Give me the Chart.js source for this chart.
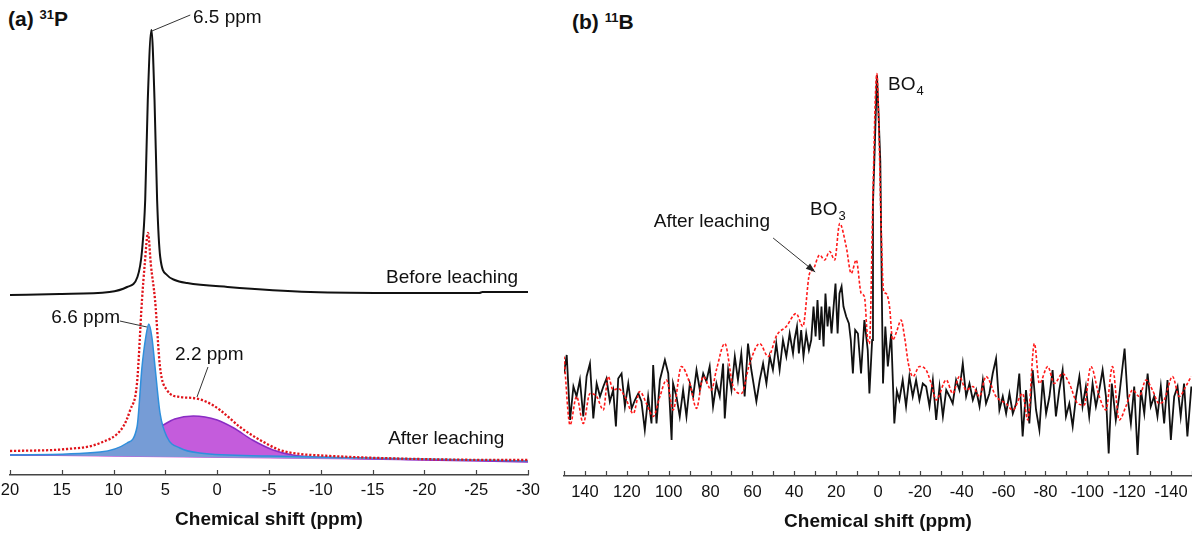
<!DOCTYPE html>
<html>
<head>
<meta charset="utf-8">
<script src="https://cdn.jsdelivr.net/npm/chart.js@4.4.1/dist/chart.umd.min.js"></script>
<style>
  html, body { margin: 0; padding: 0; background: #fff; overflow: hidden; }
  body { width: 1192px; height: 534px; position: relative; font-family: "Liberation Sans", Arial, sans-serif; }
  canvas { position: absolute; top: 0; }
  #pChart { left: 0; }
  #bChart { left: 550px; }
  .panel { position: absolute; font-weight: bold; font-size: 21px; color: #111; line-height: 1; white-space: nowrap; }
  .panel sup { font-size: 13px; vertical-align: 0; position: relative; top: -7px; }
</style>
</head>
<body>
<div class="panel" style="left:8px; top:8px">(a) <sup>31</sup>P</div>
<div class="panel" style="left:572px; top:11px">(b) <sup>11</sup>B</div>
<canvas id="pChart" width="550" height="534"></canvas>
<canvas id="bChart" width="642" height="534"></canvas>
<script>
// ---- (a) 31P : chemical shift (ppm) / intensity (a.u.) ----
const pTicks = [20, 15, 10, 5, 0, -5, -10, -15, -20, -25, -30];

const pBeforeShift = [20, 15.2, 10.4, 8.7, 7.7, 7.25, 6.95, 6.7, 6.35, 6.05, 5.8, 5.5, 4.85, 4.1, 2.9, -1, -9, -18, -25.3, -25.6, -30];
const pBeforeInt   = [36, 36.2, 36.6, 37.6, 39.6, 45, 55, 75, 89, 75, 55, 43.6, 40, 39, 38.4, 37.6, 36.6, 36.4, 36.4, 36.6, 36.6];

const pAfterShift = [20, 14.5, 11.3, 9.1, 8.4, 7.74, 7.26, 7.0, 6.68, 6.4, 6.0, 5.52, 4.85, 3.6, 2.33, 1.0, -0.27, -2.2, -4.13, -6.06, -8, -9.25, -15.7, -28.6, -30];
const pAfterInt   = [4.8, 5.2, 6.4, 9.6, 13, 18.4, 35, 42, 48.4, 42, 35, 21.6, 17, 15.6, 15.4, 14.6, 13, 9.6, 7, 5, 4.2, 4, 3.4, 3, 3];

// fitted component at 6.6 ppm
const pSiteAShift = [20, 11.3, 8.7, 7.74, 7.26, 6.9, 6.6, 6.3, 6.0, 5.52, 4.85, 3.6, 1.7, -5, -15, -30];
const pSiteAInt   = [4, 4.6, 6.4, 9.6, 21.6, 27.5, 30.2, 27.5, 21.6, 12.4, 7.6, 5.4, 4.4, 3.8, 3.4, 2.8];

// fitted component at 2.2 ppm
const pSiteBShift = [20, 11.3, 9.7, 8.7, 7.0, 5.2, 4.1, 2.3, 0, -1.6, -3.4, -5.4, -7.3, -12, -20, -30];
const pSiteBInt   = [4, 4.2, 5.2, 6, 7.8, 10, 11.2, 11.8, 11, 9.4, 7, 5, 4, 3.4, 3, 2.6];

const pBaseShift = [20, -30];
const pBaseInt   = [4, 2.8];

// ---- (b) 11B ----
const bTicks = [150, 140, 130, 120, 110, 100, 90, 80, 70, 60, 50, 40, 30, 20, 10, 0,
  -10, -20, -30, -40, -50, -60, -70, -80, -90, -100, -110, -120, -130, -140, -150];

const bBeforeShift = [150, 148.7, 147.1, 145.5, 144.0, 142.4, 140.8, 139.2, 137.6, 136.0, 134.4, 132.8, 131.2, 129.7, 128.1, 126.5,
  125.2, 124.1, 122.5, 120.9, 119.3, 117.7, 116.1, 114.5, 113.0, 111.4, 109.8, 108.2, 107.4, 105.8, 104.2, 101.8, 100.2,
  98.6, 97.9, 96.3, 94.7, 93.1, 91.5, 89.9, 88.3, 86.7, 85.1, 83.5, 82.0, 80.4, 78.8, 77.2, 75.6, 74.0, 73.2, 71.6, 70.0,
  68.4, 66.9, 65.3, 63.7, 62.1, 60.5, 58.1, 56.5, 54.9, 53.3, 51.7, 50.2, 48.6, 47.0, 45.4, 43.8, 42.2, 40.6, 39.9, 38.7,
  37.8, 36.7, 35.6, 34.3, 33.0, 31.9, 30.8, 29.8, 28.9, 27.9, 27.0, 26.0, 25.1, 24.1, 23.2, 22.2, 21.2, 20.3, 19.3, 18.4,
  17.4, 16.5, 15.2, 13.9, 13.0, 12.0, 10.9, 9.6, 8.1, 6.5, 4.9, 4.1, 2.8, 2.4, 1.6, 0.5, -0.3, -1.1, -2.0, -2.4, -3.5,
  -4.7, -6.3, -7.8, -9.0, -10.2, -11.8, -13.4, -15.0, -16.6, -18.2, -19.8, -21.4, -23.0, -24.6, -26.2, -27.8, -29.4,
  -31.0, -32.6, -34.2, -35.7, -37.3, -38.9, -40.5, -42.1, -43.7, -45.3, -46.9, -48.5, -50.1, -51.6, -53.2, -54.8, -56.4,
  -58.0, -59.6, -61.2, -62.8, -64.4, -66.0, -67.5, -69.1, -70.7, -72.3, -73.9, -75.5, -77.1, -78.7, -80.3, -81.9, -83.4,
  -85.0, -86.6, -88.2, -89.8, -91.4, -93.0, -94.6, -96.2, -97.7, -99.3, -100.9, -102.5, -104.1, -105.7, -107.3, -108.9,
  -110.2, -111.7, -113.6, -115.2, -117.8, -119.2, -120.8, -122.4, -124.0, -125.6, -127.2, -128.8, -130.3, -131.9, -133.5,
  -135.1, -136.7, -138.3, -139.9, -141.5, -143.1, -144.6, -146.2, -147.8, -149.7];
const bBeforeInt = [20.5, 24.2, 11.2, 17.9, 15.9, 19.2, 11.9, 19.9, 22.5, 11.5, 18.5, 15.9, 17.9, 19.5, 14.9, 17.2,
  9.9, 19.5, 20.5, 13.9, 18.5, 13.5, 15.2, 16.5, 14.9, 9.2, 15.9, 10.5, 22.2, 10.5, 19.2, 23.2, 20.5,
  7.2, 18.5, 15.9, 11.9, 17.2, 11.9, 18.5, 15.9, 21.2, 17.2, 20.5, 18.9, 21.9, 13.9, 18.5, 15.9, 22.5, 11.5, 21.2, 17.2,
  23.9, 19.2, 24.5, 15.9, 26.5, 21.2, 14.9, 19.2, 22.5, 18.5, 23.9, 21.2, 26.5, 21.2, 27.2, 23.9, 28.5, 24.5, 27.2, 29.9,
  24.5, 29.2, 23.9, 28.5, 25.2, 27.2, 33.9, 27.9, 35.2, 27.2, 33.9, 25.9, 36.5, 29.9, 33.9, 28.5, 33.9, 38.5, 28.5, 36.5,
  37.9, 33.9, 31.9, 30.5, 27.2, 20.5, 29.2, 28.5, 20.5, 31.2, 25.2, 16.5, 27.2, 54.5, 65, 80.2, 72, 63, 31, 18.5, 29.9,
  21.9, 28.5, 10.5, 17, 15.2, 19.2, 13.9, 19.9, 15.9, 19.2, 15.2, 18.5, 17.9, 13.9, 19.2, 11.2, 17.9,
  11.9, 17.2, 15.9, 14.5, 19.2, 17.2, 22.5, 15.9, 18.5, 15.2, 17.2, 13.9, 19.2, 14.5, 16.5, 20.5, 23.5,
  13.2, 15.9, 12.5, 16.5, 12.5, 14.5, 20.5, 7.9, 17.2, 10.5, 21.2, 13.2, 9.2, 19.2, 12.5, 15.9, 21.2,
  11.9, 17.2, 21.2, 11.9, 14.5, 9.9, 15.9, 19.9, 13.9, 17.9, 11.9, 18.5, 13.9, 17.2, 21.2, 15.9,
  4.5, 18.5, 11.2, 15.9, 25.5, 15.9, 10.5, 17.9, 4.2, 17.2, 12.5, 20.5, 13.9, 15.9, 11.9,
  17.9, 10.5, 19.2, 7.2, 15.9, 17.9, 11.9, 18.5, 7.9, 17.9];

const bAfterShift = [150, 147.1, 144.0, 140.8, 137.6, 134.4, 131.2, 128.9, 126.5, 124.1, 120.9, 116.9, 113.8, 110.6, 107.4,
  104.2, 101.0, 97.9, 93.9, 89.9, 86.7, 83.5, 79.6, 77.2, 73.2, 69.2, 65.3, 61.3, 56.5, 52.5, 48.3, 43.8, 39.1, 35.9,
  32.7, 31.1, 27.9, 25.5, 23.1, 20.7, 18.3, 15.2, 12.8, 10.4, 8.0, 6.5, 4.9, 4.1, 2.4, 1.2, 0.5, -0.4, -1.5, -2.6, -3.9,
  -5.5, -7.0, -9.0, -11.0, -12.8, -14.5, -16.7, -19.8, -23.0, -25.4, -27.8, -32.6, -35.7, -38.9, -42.1, -45.3, -48.5,
  -51.6, -56.4, -61.2, -64.4, -69.1, -71.5, -74.7, -77.1, -81.1, -84.2, -88.2, -91.4, -95.4, -98.5, -101.7, -105.7,
  -108.9, -112.0, -115.2, -118.4, -121.6, -124.8, -128.0, -131.1, -134.3, -136.7, -140.7, -143.9, -147.0, -149.6];
const bAfterInt = [23.9, 10.2, 15.9, 10.5, 16.5, 15.9, 13.2, 19.9, 17.2, 17.5, 15.9, 12.5, 16.9, 14.5, 11.9,
  15.9, 19.2, 13.2, 21.9, 18.5, 13.5, 19.9, 17.2, 21.2, 26.5, 17.9, 16.5, 22.5, 26.5, 23.9, 28.2, 29.9, 32.5, 29.9,
  40.5, 41.2, 44.2, 43.2, 44.9, 43.2, 50.5, 45.9, 40.5, 43.2, 36.5, 35.9, 27.2, 26.5, 56.5, 76.5, 80.5, 69.9, 49.9, 37.2, 36.5,
  33.9, 27.2, 29, 31.2, 27.5, 22.5, 19.9, 21.9, 21.2, 18.5, 15.2, 19.2, 16.5, 19.9, 17.2, 17.9, 15.9,
  19.9, 15.9, 14.5, 13.2, 16.5, 11.2, 26.5, 18.5, 21.9, 18.5, 20.5, 18.5, 14.5, 14.2, 21.9, 15.9,
  13.2, 21.9, 11.2, 13.9, 17.2, 15.9, 19.2, 17.2, 14.5, 15.2, 19.9, 15.9, 17.9, 19.9];

const FONT = "'Liberation Sans', Arial, sans-serif";
const pts = (xs, ys) => xs.map((x, i) => ({ x: x, y: ys[i] }));

// small tick marks pointing up from the axis line
const upTicks = {
  id: 'upTicks',
  afterDraw(chart) {
    const { ctx, chartArea, scales: { x } } = chart;
    ctx.save();
    ctx.strokeStyle = '#444';
    ctx.lineWidth = 1.2;
    x.ticks.forEach(t => {
      const px = Math.round(x.getPixelForValue(t.value)) + 0.5;
      ctx.beginPath();
      ctx.moveTo(px, chartArea.bottom);
      ctx.lineTo(px, chartArea.bottom - 5);
      ctx.stroke();
    });
    ctx.restore();
  }
};

// text labels, leader lines and arrows placed in data coordinates
const notes = {
  id: 'notes',
  afterDatasetsDraw(chart, args, opts) {
    const { ctx, scales: { x, y } } = chart;
    ctx.save();
    ctx.strokeStyle = '#333';
    ctx.fillStyle = '#222';
    ctx.lineWidth = 1;
    (opts.lines || []).forEach(l => {
      const x1 = x.getPixelForValue(l[0]), y1 = y.getPixelForValue(l[1]);
      const x2 = x.getPixelForValue(l[2]), y2 = y.getPixelForValue(l[3]);
      ctx.beginPath();
      ctx.moveTo(x1, y1);
      ctx.lineTo(x2, y2);
      ctx.stroke();
      if (l[4]) {
        const a = Math.atan2(y2 - y1, x2 - x1);
        ctx.beginPath();
        ctx.moveTo(x2, y2);
        ctx.lineTo(x2 - 10 * Math.cos(a - 0.35), y2 - 10 * Math.sin(a - 0.35));
        ctx.lineTo(x2 - 10 * Math.cos(a + 0.35), y2 - 10 * Math.sin(a + 0.35));
        ctx.closePath();
        ctx.fill();
      }
    });
    ctx.fillStyle = '#111';
    ctx.textBaseline = 'middle';
    (opts.texts || []).forEach(t => {
      let px = x.getPixelForValue(t.x);
      const py = y.getPixelForValue(t.y);
      ctx.font = '19px ' + FONT;
      ctx.textAlign = t.align || 'left';
      ctx.fillText(t.text, px, py);
      if (t.sub) {
        px += ctx.measureText(t.text).width + 1;
        ctx.font = '13px ' + FONT;
        ctx.textAlign = 'left';
        ctx.fillText(t.sub, px, py + 6);
      }
    });
    ctx.restore();
  }
};

function xAxis(min, max, ticks, labelFn, h, tickPad, titlePad) {
  return {
    type: 'linear', reverse: true, min: min, max: max,
    afterBuildTicks: s => { s.ticks = ticks.map(v => ({ value: v })); },
    afterFit: s => { s.height = h; s.paddingLeft = 0; s.paddingRight = 0; },
    grid: { display: false, drawTicks: false },
    border: { display: true, color: '#444', width: 1.5 },
    ticks: { color: '#111', font: { family: FONT, size: 16.5 }, padding: tickPad, maxRotation: 0, autoSkip: false, callback: labelFn },
    title: { display: true, text: 'Chemical shift (ppm)', color: '#111', font: { family: FONT, size: 19, weight: 'bold' }, padding: { top: 0, bottom: titlePad } }
  };
}

new Chart(document.getElementById('pChart'), {
  type: 'line',
  data: {
    datasets: [
      { label: 'After leaching', data: pts(pAfterShift, pAfterInt), borderColor: '#e0141b', borderWidth: 2.3,
        borderDash: [2.2, 1.8], pointRadius: 0, cubicInterpolationMode: 'monotone', fill: false, order: 0 },
      { label: '6.6 ppm', data: pts(pSiteAShift, pSiteAInt), borderColor: '#2f8fdc', borderWidth: 1.5,
        backgroundColor: 'rgba(118,156,214,1)', pointRadius: 0, cubicInterpolationMode: 'monotone', fill: 3, order: 1 },
      { label: '2.2 ppm', data: pts(pSiteBShift, pSiteBInt), borderColor: '#8a2cc4', borderWidth: 1.5,
        backgroundColor: 'rgba(196,92,220,1)', pointRadius: 0, cubicInterpolationMode: 'monotone', fill: 3, order: 2 },
      { label: 'baseline', data: pts(pBaseShift, pBaseInt), borderColor: '#d35ad8', borderWidth: 1.2,
        pointRadius: 0, fill: false, order: 3 },
      { label: 'Before leaching', data: pts(pBeforeShift, pBeforeInt), borderColor: '#111', borderWidth: 2,
        pointRadius: 0, cubicInterpolationMode: 'monotone', fill: false, order: 0 }
    ]
  },
  options: {
    responsive: false, animation: false, devicePixelRatio: 1,
    layout: { padding: { left: 10, right: 22, top: 25, bottom: 0 } },
    scales: {
      x: xAxis(-30, 20, pTicks, v => String(v), 59, 6, 3),
      y: { display: false, min: 0, max: 90 }
    },
    plugins: {
      legend: { display: false }, tooltip: { enabled: false },
      notes: {
        lines: [[6.3, 88.8, 2.6, 92], [9.4, 30.8, 6.78, 29.6], [0.89, 21.6, 1.95, 15.6]],
        texts: [
          { x: 2.34, y: 91.4, text: '6.5 ppm' },
          { x: 9.38, y: 31.4, text: '6.6 ppm', align: 'right' },
          { x: 4.07, y: 24, text: '2.2 ppm' },
          { x: -16.3, y: 39.4, text: 'Before leaching' },
          { x: -16.5, y: 7.2, text: 'After leaching' }
        ]
      }
    }
  },
  plugins: [upTicks, notes]
});

new Chart(document.getElementById('bChart'), {
  type: 'line',
  data: {
    datasets: [
      { label: 'After leaching', data: pts(bAfterShift, bAfterInt), borderColor: '#ff1a1a', borderWidth: 1.6,
        borderDash: [3, 2], pointRadius: 0, cubicInterpolationMode: 'monotone', fill: false, order: 0 },
      { label: 'Before leaching', data: pts(bBeforeShift, bBeforeInt), borderColor: '#111', borderWidth: 1.8,
        pointRadius: 0, tension: 0, fill: false, order: 1 }
    ]
  },
  options: {
    responsive: false, animation: false, devicePixelRatio: 1,
    layout: { padding: { left: 14, right: 0, top: 26, bottom: 0 } },
    scales: {
      x: xAxis(-150, 150, bTicks, v => (v % 20 === 0 ? String(v) : ''), 58, 7, 1),
      y: { display: false, min: 0, max: 90 }
    },
    plugins: {
      legend: { display: false }, tooltip: { enabled: false },
      notes: {
        lines: [[50.1, 47.6, 30, 40.8, true]],
        texts: [
          { x: 51.6, y: 50.8, text: 'After leaching', align: 'right' },
          { x: 32.5, y: 53.2, text: 'BO', sub: '3' },
          { x: -4.8, y: 78.2, text: 'BO', sub: '4' }
        ]
      }
    }
  },
  plugins: [upTicks, notes]
});
</script>
</body>
</html>
